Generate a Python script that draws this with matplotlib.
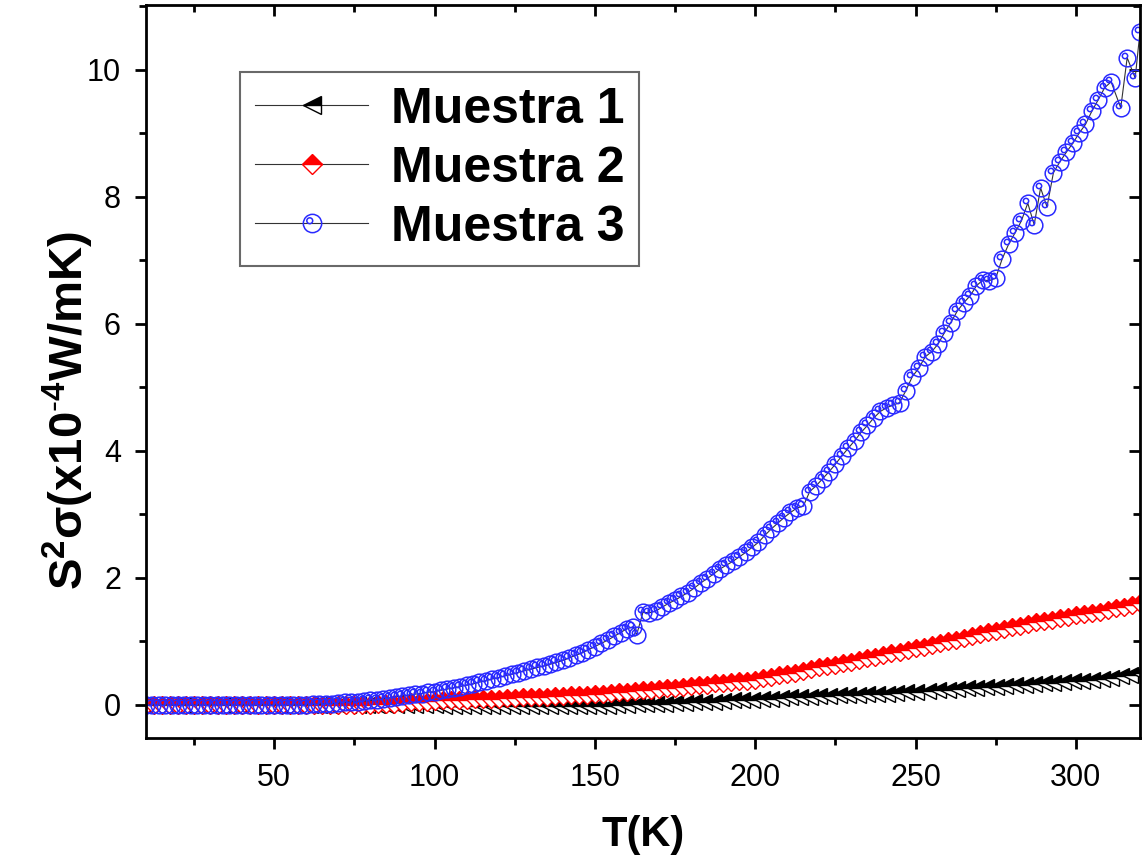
import matplotlib
matplotlib.use("Agg")
import matplotlib.pyplot as plt
from matplotlib.path import Path
from matplotlib.ticker import MultipleLocator

plt.rcParams['font.family'] = ['Liberation Sans', 'DejaVu Sans']
plt.rcParams['mathtext.fontset'] = 'custom'
plt.rcParams['mathtext.rm'] = 'Liberation Sans'
plt.rcParams['mathtext.bf'] = 'Liberation Sans:bold'

# Muestra 1 (black half-filled triangles)
t1 = [10, 13, 16, 19, 22, 25, 28, 31, 34, 37, 40, 43, 46, 49, 52, 55, 58, 61, 64, 67,
      70, 73, 76, 79, 82, 85, 88, 91, 94, 97, 100, 103, 106, 109, 112, 115, 118, 121, 124, 127,
      130, 133, 136, 139, 142, 145, 148, 151, 154, 157, 160, 163, 166, 169, 172, 175, 178, 181, 184, 187,
      190, 193, 196, 199, 202, 205, 208, 211, 214, 217, 220, 223, 226, 229, 232, 235, 238, 241, 244, 247,
      250, 254, 257, 260, 263, 266, 269, 272, 275, 278, 281, 284, 287, 290, 293, 296, 299, 302, 305, 308,
      311, 314, 317, 320]
m1 = [0.0, 0.0, 0.0, 0.0, 0.0, 0.0, 0.0, 0.0, 0.0, 0.0, 0.0, 0.0, 0.0, 0.0, 0.0, 0.0, 0.0, 0.0, 0.0, 0.0,
      0.0, 0.0, 0.0, 0.0, 0.0, 0.0, 0.0, 0.0, 0.0, 0.0, 0.0, -0.01, -0.01, -0.02, -0.02, -0.02, -0.02, -0.02, -0.02, -0.02,
      -0.02, -0.02, -0.02, -0.02, -0.02, -0.02, -0.02, -0.01, -0.01, 0.0, 0.0, 0.01, 0.01, 0.02, 0.02, 0.03, 0.03, 0.04, 0.05, 0.05,
      0.06, 0.07, 0.08, 0.08, 0.09, 0.10, 0.11, 0.12, 0.12, 0.13, 0.14, 0.14, 0.15, 0.16, 0.16, 0.17, 0.18, 0.18, 0.19, 0.20,
      0.20, 0.22, 0.23, 0.24, 0.25, 0.26, 0.27, 0.28, 0.29, 0.30, 0.31, 0.32, 0.33, 0.34, 0.35, 0.36, 0.37, 0.38, 0.40, 0.41,
      0.43, 0.45, 0.47, 0.50]

# Muestra 2 (red half-filled diamonds)
t2 = [10, 12.5, 15, 17.5, 20, 22.5, 25, 27.5, 30, 32.5, 35, 37.5, 40, 42.5, 45, 47.5, 50, 52.5, 55, 57.5,
      60, 62.5, 65, 67.5, 70, 72.5, 75, 77.5, 80, 82.5, 85, 87.5, 90, 92.5, 95, 97.5, 100, 102.5, 105, 107.5,
      110, 112.5, 115, 117.5, 120, 122.5, 125, 127.5, 130, 132.5, 135, 137.5, 140, 142.5, 145, 147.5, 150, 152.5, 155, 157.5,
      160, 162.5, 165, 167.5, 170, 172.5, 175, 177.5, 180, 182.5, 185, 187.5, 190, 192.5, 195, 197.5, 200, 202.5, 205, 207.5,
      210, 212.5, 215, 217.5, 220, 222.5, 225, 227.5, 230, 232.5, 235, 237.5, 240, 242.5, 245, 247.5, 250, 252.5, 255, 257.5,
      260, 262.5, 265, 267.5, 270, 272.5, 275, 277.5, 280, 282.5, 285, 287.5, 290, 292.5, 295, 297.5, 300, 302.5, 305, 307.5,
      310, 312.5, 315, 317.5, 320]
m2 = [0.0, 0.0, 0.0, 0.0, 0.0, 0.0, 0.0, 0.0, 0.0, 0.0, 0.0, 0.0, 0.0, 0.0, 0.0, 0.0, 0.0, 0.0, 0.0, 0.0,
      0.0, 0.0, 0.0, 0.0, 0.0, 0.0, 0.0, 0.0, 0.0, 0.01, 0.01, 0.02, 0.03, 0.04, 0.05, 0.05, 0.06, 0.07, 0.07, 0.08,
      0.08, 0.09, 0.09, 0.10, 0.10, 0.11, 0.11, 0.12, 0.12, 0.13, 0.13, 0.14, 0.14, 0.15, 0.15, 0.16, 0.17, 0.18, 0.19, 0.20,
      0.21, 0.22, 0.23, 0.24, 0.25, 0.26, 0.27, 0.29, 0.30, 0.31, 0.32, 0.34, 0.35, 0.36, 0.37, 0.38, 0.40, 0.42, 0.44, 0.47,
      0.49, 0.51, 0.54, 0.56, 0.59, 0.61, 0.63, 0.66, 0.68, 0.71, 0.74, 0.76, 0.79, 0.81, 0.84, 0.86, 0.89, 0.92, 0.95, 0.98,
      1.00, 1.03, 1.06, 1.09, 1.12, 1.15, 1.17, 1.20, 1.22, 1.25, 1.27, 1.30, 1.32, 1.34, 1.37, 1.39, 1.41, 1.43, 1.45, 1.47,
      1.50, 1.52, 1.54, 1.57, 1.60]

# Muestra 3 (blue circles)
t3 = [10, 12, 14, 16, 18, 20, 22, 24, 26, 28, 30, 32, 34, 36, 38, 40, 42, 44, 46, 48,
      50, 52, 54, 56, 58, 60, 62, 64, 66, 68, 70, 72, 74, 76, 78, 80, 82, 84, 86, 88,
      90, 92, 94, 96, 98, 100, 102, 104, 106, 108, 110, 112, 114, 116, 118, 120, 122, 124, 126, 128,
      130, 132, 134, 136, 138, 140, 142, 144, 146, 148, 150, 152, 154, 156, 158, 160, 162, 163, 165, 167,
      169, 171, 173, 175, 177, 179, 181, 183, 185, 187, 189, 191, 193, 195, 197, 199, 201, 203, 205, 207,
      209, 211, 213, 215, 217, 219, 221, 223, 225, 227, 229, 231, 233, 235, 237, 239, 241, 243, 245, 247,
      249, 251, 253, 255, 257, 259, 261, 263, 265, 267, 269, 271, 273, 275, 277, 279, 281, 283, 285, 287,
      289, 291, 293, 295, 297, 299, 301, 303, 305, 307, 309, 311, 314, 316, 318.5, 320]
m3 = [0.0, 0.0, 0.0, 0.0, 0.0, 0.0, 0.0, 0.0, 0.0, 0.0, 0.0, 0.0, 0.0, 0.0, 0.0, 0.0, 0.0, 0.0, 0.0, 0.0,
      0.0, 0.0, 0.0, 0.0, 0.0, 0.0, 0.01, 0.01, 0.02, 0.02, 0.03, 0.04, 0.05, 0.05, 0.06, 0.07, 0.08, 0.10, 0.11, 0.13,
      0.14, 0.15, 0.17, 0.18, 0.20, 0.21, 0.23, 0.25, 0.27, 0.29, 0.31, 0.33, 0.36, 0.38, 0.41, 0.43, 0.46, 0.48, 0.51, 0.54,
      0.56, 0.59, 0.61, 0.64, 0.67, 0.70, 0.74, 0.78, 0.82, 0.87, 0.92, 0.97, 1.02, 1.08, 1.14, 1.20, 1.23, 1.10, 1.46, 1.45,
      1.48, 1.54, 1.60, 1.65, 1.71, 1.77, 1.84, 1.92, 1.99, 2.06, 2.14, 2.20, 2.26, 2.33, 2.40, 2.48, 2.56, 2.67, 2.77, 2.86,
      2.95, 3.03, 3.10, 3.13, 3.36, 3.45, 3.56, 3.67, 3.79, 3.92, 4.04, 4.16, 4.29, 4.40, 4.52, 4.62, 4.68, 4.72, 4.76, 4.95,
      5.17, 5.30, 5.48, 5.56, 5.68, 5.86, 6.02, 6.20, 6.33, 6.44, 6.60, 6.69, 6.68, 6.72, 7.02, 7.25, 7.43, 7.62, 7.90, 7.56,
      8.14, 7.84, 8.38, 8.55, 8.70, 8.84, 9.00, 9.14, 9.35, 9.53, 9.72, 9.81, 9.40, 10.19, 9.87, 10.60]

labels = ["Muestra 1", "Muestra 2", "Muestra 3"]

# circle with a small inner circle, like Origin's sphere symbol
ring = Path.make_compound_path(Path.circle((0, 0), 1.0), Path.circle((-0.3, 0.3), 0.32))

fig = plt.figure(figsize=(11.44, 8.61), dpi=100)
ax = fig.add_axes([0.1276, 0.1429, 0.8689, 0.8513])

ax.plot(t1, m1, color='#333333', lw=0.8, marker='<', ms=12, fillstyle='top',
        markerfacecolor='black', markerfacecoloralt='white', markeredgecolor='black',
        markeredgewidth=1.0, label=labels[0])
ax.plot(t2, m2, color='#333333', lw=0.8, marker='D', ms=9.5, fillstyle='top',
        markerfacecolor='red', markerfacecoloralt='white', markeredgecolor='red',
        markeredgewidth=1.0, label=labels[1])
ax.plot(t3, m3, color='#333333', lw=0.8, marker=ring, ms=12, markerfacecolor='none',
        markeredgecolor='#2a2aff', markeredgewidth=1.1, label=labels[2])

ax.set_xlim(10, 320)
ax.set_ylim(-0.52, 11.02)
ax.xaxis.set_major_locator(MultipleLocator(50))
ax.xaxis.set_minor_locator(MultipleLocator(25))
ax.yaxis.set_major_locator(MultipleLocator(2))
ax.yaxis.set_minor_locator(MultipleLocator(1))
ax.tick_params(which='major', direction='out', length=8, width=2, labelsize=22, pad=10)
ax.tick_params(which='minor', direction='out', length=5, width=2)
for s in ax.spines.values():
    s.set_linewidth(2)

top = ax.secondary_xaxis('top')
top.xaxis.set_major_locator(MultipleLocator(50))
top.xaxis.set_minor_locator(MultipleLocator(25))
top.tick_params(which='major', direction='in', length=8, width=2, labeltop=False)
top.tick_params(which='minor', direction='in', length=5, width=2)
right = ax.secondary_yaxis('right')
right.yaxis.set_major_locator(MultipleLocator(2))
right.yaxis.set_minor_locator(MultipleLocator(1))
right.tick_params(which='major', direction='in', length=8, width=2, labelright=False)
right.tick_params(which='minor', direction='in', length=5, width=2)

ax.set_xlabel("T(K)", fontsize=30, fontweight='bold', labelpad=16)
ax.set_ylabel(r"S$^{\mathregular{2}}$$\mathregular{σ}$(x10$^{\mathbf{\text{-}4}}$W/mK)",
              fontsize=34, fontweight='bold')
ax.yaxis.set_label_coords(-0.05, 0.446)

leg = ax.legend(loc='upper left', bbox_to_anchor=(0.0946, 0.9086),
                prop={'weight': 'bold', 'size': 36}, frameon=True, fancybox=False,
                handlelength=2.26, handletextpad=0.45, borderpad=0.3, labelspacing=0.26,
                borderaxespad=0, markerscale=1.1)
leg.get_frame().set_edgecolor('#444444')
leg.get_frame().set_linewidth(1.5)

fig.savefig("out.png", dpi=100)
